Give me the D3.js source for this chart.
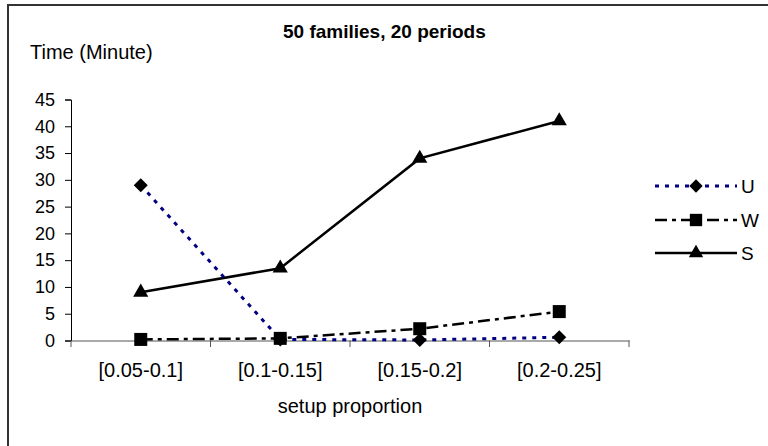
<!DOCTYPE html>
<html>
<head>
<meta charset="utf-8">
<script src="https://cdn.jsdelivr.net/npm/d3@7"></script>
<style>
  body { margin: 0; background: #fff; }
  text { font-family: "Liberation Sans", Arial, sans-serif; fill: #000; }
</style>
</head>
<body>
<div id="chart"></div>
<script>
var categories = ['[0.05-0.1]', '[0.1-0.15]', '[0.15-0.2]', '[0.2-0.25]'];
var seriesNames = ['U', 'W', 'S'];
var uValues = [29, 0.2, 0.1, 0.6];
var wValues = [0.2, 0.4, 2.2, 5.4];
var sValues = [9, 13.5, 34, 41];
var yTicks = [0, 5, 10, 15, 20, 25, 30, 35, 40, 45];

var width = 768, height = 446;
var svg = d3.select('#chart').append('svg')
    .attr('width', width)
    .attr('height', height);

// outer chart frame (cropped at right and bottom)
svg.append('rect')
    .attr('x', 8).attr('y', 5)
    .attr('width', 800).attr('height', 500)
    .attr('fill', 'none')
    .attr('stroke', '#333')
    .attr('stroke-width', 2);

var x = d3.scaleBand().domain(categories).range([71, 629]);
var y = d3.scaleLinear().domain([0, 45]).range([340.5, 99.5]);

var yAxis = svg.append('g')
    .attr('transform', 'translate(71,0)')
    .call(d3.axisLeft(y).tickValues(yTicks).tickSize(6).tickPadding(10));
yAxis.select('.domain').attr('stroke', '#000');
yAxis.selectAll('.tick line').attr('stroke', '#000');
yAxis.selectAll('text').style('font-size', '18px').attr('fill', '#000');

var xAxis = svg.append('g')
    .attr('transform', 'translate(0,340.5)')
    .call(d3.axisBottom(x).tickSize(0).tickPadding(22));
xAxis.select('.domain').attr('stroke', '#555');
xAxis.selectAll('text').style('font-size', '20px').attr('fill', '#000');
// ticks between categories
svg.append('g').selectAll('line')
    .data(categories.concat(['end']))
    .enter().append('line')
    .attr('x1', function(d, i) { return x.range()[0] + i * x.step(); })
    .attr('x2', function(d, i) { return x.range()[0] + i * x.step(); })
    .attr('y1', 340.5).attr('y2', 347)
    .attr('stroke', '#555');

svg.append('text')
    .attr('x', 283).attr('y', 38)
    .style('font-size', '19px').style('font-weight', 'bold')
    .text('50 families, 20 periods');

svg.append('text')
    .attr('x', 30).attr('y', 59)
    .style('font-size', '20px')
    .text('Time (Minute)');

svg.append('text')
    .attr('x', 350).attr('y', 413)
    .attr('text-anchor', 'middle')
    .style('font-size', '20px')
    .text('setup proportion');

var diamond = {
    draw: function(context, size) {
        var r = Math.sqrt(size) / 2;
        context.moveTo(0, -r);
        context.lineTo(r, 0);
        context.lineTo(0, r);
        context.lineTo(-r, 0);
        context.closePath();
    }
};

var series = [
    { name: 'U', values: uValues, color: '#000080', dash: '4,6', width: 3, symbol: diamond, size: 196 },
    { name: 'W', values: wValues, color: '#000', dash: '12,5,4,5', width: 2.5, symbol: d3.symbolSquare, size: 169 },
    { name: 'S', values: sValues, color: '#000', dash: null, width: 2.5, symbol: d3.symbolTriangle, size: 100 }
];

var line = d3.line()
    .x(function(d, i) { return x(categories[i]) + x.bandwidth() / 2; })
    .y(function(d) { return y(d); });

// draw in order S, W, U
[2, 1, 0].forEach(function(k) {
    var s = series[k];
    svg.append('path')
        .datum(s.values)
        .attr('d', line)
        .attr('fill', 'none')
        .attr('stroke', s.color)
        .attr('stroke-width', s.width)
        .attr('stroke-dasharray', s.dash);
});
[0, 1, 2].forEach(function(k) {
    var s = series[k];
    svg.append('g').selectAll('path')
        .data(s.values)
        .enter().append('path')
        .attr('transform', function(d, i) {
            return 'translate(' + (x(categories[i]) + x.bandwidth() / 2) + ',' + y(d) + ')';
        })
        .attr('d', d3.symbol().type(s.symbol).size(s.size))
        .attr('fill', '#000');
});

// legend
var legend = svg.append('g').selectAll('g')
    .data(series)
    .enter().append('g')
    .attr('transform', function(d, i) { return 'translate(0,' + [186, 220, 253][i] + ')'; });
legend.append('line')
    .attr('x1', 655).attr('x2', 737)
    .attr('stroke', function(d) { return d.color; })
    .attr('stroke-width', function(d) { return d.width; })
    .attr('stroke-dasharray', function(d) { return d.dash; });
legend.append('path')
    .attr('transform', 'translate(696,0)')
    .attr('d', function(d) { return d3.symbol().type(d.symbol).size(d.size * 0.9)(); })
    .attr('fill', '#000');
legend.append('text')
    .attr('x', 741).attr('y', 7)
    .style('font-size', '19px')
    .text(function(d) { return d.name; });
</script>
</body>
</html>
